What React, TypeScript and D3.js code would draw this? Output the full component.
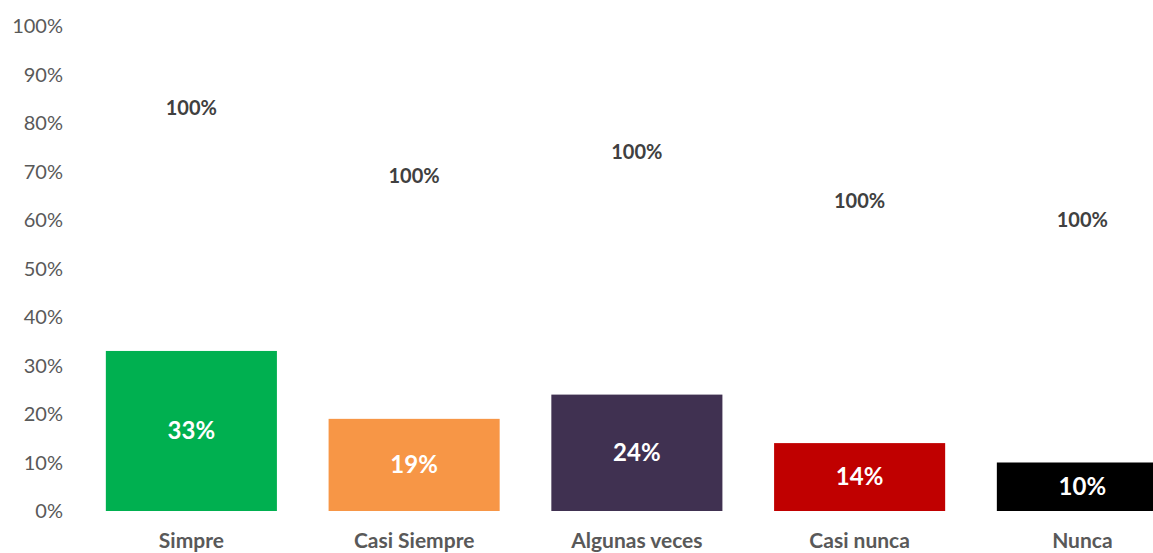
import React from 'react';
import * as d3 from 'd3';

// data
const categories = ['Simpre', 'Casi Siempre', 'Algunas veces', 'Casi nunca', 'Nunca'];
const values = [0.33, 0.19, 0.24, 0.14, 0.10];
const barColors = ['#00b050', '#f79646', '#403151', '#c00000', '#000000'];
// the hidden "total" series: its labels sit at these levels
const totalLabels = ['100%', '100%', '100%', '100%', '100%'];
const totalLabelLevels = [0.83, 0.69, 0.74, 0.64, 0.60];
const yTicks = [0, 0.1, 0.2, 0.3, 0.4, 0.5, 0.6, 0.7, 0.8, 0.9, 1.0];

const font = 'Lato, Open Sans, sans-serif';

export default function App() {
  const width = 1153;
  const height = 553;
  const margin = {top: 26, left: 80, bottom: 42};

  const xScale = d3.scaleBand()
    .domain(categories)
    .range([margin.left, margin.left + 5 * 222.75])
    .paddingInner(0.232)
    .paddingOuter(0.116);

  const yScale = d3.scaleLinear()
    .domain([0, 1])
    .range([height - margin.bottom, margin.top]);

  const pct = d3.format('.0%');

  return (
    <svg width={width} height={height} style={{position: 'absolute', left: 0, top: 0}}>
      <rect width={width} height={height} fill="#fff" />
      {yTicks.map(t => (
        <text key={t} x={63} y={yScale(t)} dy="0.35em" textAnchor="end"
          fontFamily={font} fontSize={20} fill="#595959">{pct(t)}</text>
      ))}
      {categories.map((c, i) => {
        const x = xScale(c) as number;
        const bw = xScale.bandwidth();
        const y0 = yScale(0);
        const y1 = yScale(values[i]);
        return (
          <g key={c}>
            <rect x={x} y={y1} width={bw} height={y0 - y1} fill={barColors[i]} />
            <text x={x + bw / 2} y={(y0 + y1) / 2} dy="0.35em" textAnchor="middle"
              fontFamily={font} fontSize={24} fontWeight="bold" fill="#fff">{pct(values[i])}</text>
            <text x={x + bw / 2} y={yScale(totalLabelLevels[i])} dy="0.35em" textAnchor="middle"
              fontFamily={font} fontSize={20} fontWeight="bold" fill="#404040">{totalLabels[i]}</text>
            <text x={x + bw / 2} y={541} dy="0.35em" textAnchor="middle"
              fontFamily={font} fontSize={21} fontWeight="bold" fill="#595959">{c}</text>
          </g>
        );
      })}
    </svg>
  );
}
